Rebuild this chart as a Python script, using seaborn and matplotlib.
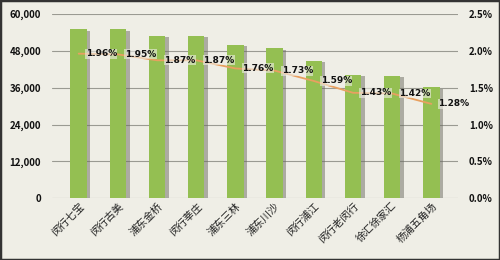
import matplotlib
matplotlib.use("Agg")
import matplotlib.pyplot as plt
import matplotlib.patheffects as pe
import seaborn as sns
import pandas as pd
from matplotlib.ticker import FuncFormatter

categories = ["闵行七宝", "闵行古美", "浦东金桥", "闵行莘庄", "浦东三林",
              "浦东川沙", "闵行浦江", "闵行老闵行", "徐汇徐家汇", "杨浦五角场"]
bar_values = [55000, 55000, 52900, 52900, 49900, 48800, 44700, 40100, 39800, 36100]
rate_values = [1.96, 1.95, 1.87, 1.87, 1.76, 1.73, 1.59, 1.43, 1.42, 1.28]
left_ticks = [0, 12000, 24000, 36000, 48000, 60000]
right_ticks = [0.0, 0.5, 1.0, 1.5, 2.0, 2.5]

df = pd.DataFrame({"cat": categories, "val": bar_values, "rate": rate_values})

sns.set_theme(style="white")
plt.rcParams['font.family'] = ['Noto Sans CJK SC', 'DejaVu Sans']

bg = "#efeee6"
fig = plt.figure(figsize=(5, 2.6), dpi=100, facecolor=bg)
ax = fig.add_axes([0.104, 0.237, 0.812, 0.71])
ax.set_facecolor(bg)

sns.barplot(data=df, x="cat", y="val", color="#94bf52", width=0.42,
            saturation=1, ax=ax, zorder=3, edgecolor="none", linewidth=0)
for p in ax.patches:
    p.set_path_effects([pe.SimplePatchShadow(offset=(2.5, -1), shadow_rgbFace="#6a6a60", alpha=0.5),
                        pe.Normal()])

ax.set_ylim(0, 60000)
ax.set_yticks(left_ticks)
ax.yaxis.set_major_formatter(FuncFormatter(lambda v, p: f"{int(v):,}"))
ax.grid(axis="y", color="#9a9a92", linewidth=0.8, zorder=0)
ax.set_axisbelow(True)
for s in ax.spines.values():
    s.set_visible(False)
ax.set_xlabel("")
ax.set_ylabel("")
ax.tick_params(axis="y", length=0, pad=8, labelsize=7, colors="#111111")
ax.tick_params(axis="x", length=0, pad=2, labelsize=7.5, colors="#222222")
for lab in ax.get_yticklabels():
    lab.set_fontweight("bold")
plt.setp(ax.get_xticklabels(), rotation=45, ha="right", rotation_mode="anchor")

ax2 = ax.twinx()
ax2.set_ylim(0, 2.5)
ax2.set_yticks(right_ticks)
ax2.yaxis.set_major_formatter(FuncFormatter(lambda v, p: f"{v:.1f}%"))
for s in ax2.spines.values():
    s.set_visible(False)
ax2.tick_params(axis="y", length=0, pad=8, labelsize=7, colors="#111111")
for lab in ax2.get_yticklabels():
    lab.set_fontweight("bold")
sns.lineplot(x=list(range(len(categories))), y=rate_values, ax=ax2,
             color="#e8a060", linewidth=1.3, zorder=4)
ax2.set_ylabel("")
for i, r in enumerate(rate_values):
    ax2.annotate(f"{r:.2f}%", (i, r), xytext=(5, 0), textcoords="offset points",
                 ha="left", va="center", fontsize=6.5, fontweight="bold", color="#111111",
                 family=["DejaVu Sans"], zorder=5,
                 bbox=dict(boxstyle="square,pad=0.05", fc=bg, ec="none", alpha=0.6))

fig.patches.append(plt.Rectangle((0, 0), 1, 1, transform=fig.transFigure,
                                 fill=False, ec="#333333", lw=2.5))
fig.savefig("out.png", dpi=100, facecolor=bg)
